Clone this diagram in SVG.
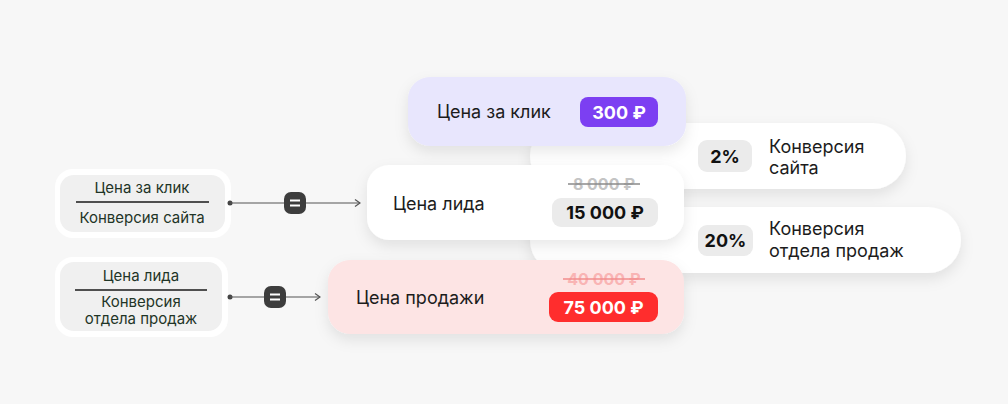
<svg xmlns="http://www.w3.org/2000/svg" width="1008" height="404" viewBox="0 0 1008 404">
<style>
text{font-family:Inter,"Noto Sans","Liberation Sans",sans-serif}
.lbl{font-size:18px;fill:#1c1c1c}
.sm{font-size:15px;fill:#1f3527;text-anchor:middle}
.b{font-weight:700;font-size:18px;text-anchor:middle}
.conn{stroke:#555;stroke-width:1.2;fill:none}
</style>
<defs>
<filter id="sh" x="-20%" y="-40%" width="140%" height="190%">
<feDropShadow dx="0" dy="6" stdDeviation="7" flood-color="#000" flood-opacity="0.09"/>
</filter>
<marker id="arr" markerWidth="8" markerHeight="10" refX="7" refY="5" orient="auto" markerUnits="userSpaceOnUse">
<path d="M2,1.5 L7,5 L2,8.5" fill="none" stroke="#555" stroke-width="1.2"/>
</marker>
</defs>
<rect width="1008" height="404" fill="#f7f7f7"/>

<g id="conv-site">
<rect x="530" y="123" width="376" height="66" rx="33" fill="#fff" filter="url(#sh)"/>
<rect x="698" y="140" width="54" height="32" rx="9" fill="#ebebeb"/>
<text class="b" x="725" y="163" fill="#111">2%</text>
<text class="lbl" x="769" y="153">Конверсия</text>
<text class="lbl" x="769" y="174">сайта</text>
</g>

<g id="conv-sales">
<rect x="530" y="207" width="431" height="66" rx="33" fill="#fff" filter="url(#sh)"/>
<rect x="698" y="225" width="55" height="31" rx="9" fill="#ebebeb"/>
<text class="b" x="725.5" y="247" fill="#111">20%</text>
<text class="lbl" x="769" y="235">Конверсия</text>
<text class="lbl" x="769" y="257">отдела продаж</text>
</g>

<g id="click-price">
<rect x="408" y="77" width="278" height="69" rx="22" fill="#e8e6fd" filter="url(#sh)"/>
<text class="lbl" x="437" y="118" fill="#23392b">Цена за клик</text>
<rect x="580" y="97" width="78" height="30" rx="8" fill="#7c3ff2"/>
<text class="b" x="619" y="119" fill="#fff">300 ₽</text>
</g>

<g id="lead-price">
<rect x="367" y="165" width="317" height="75" rx="22" fill="#fff" filter="url(#sh)"/>
<text class="lbl" x="393" y="210">Цена лида</text>
<text x="604" y="190" font-size="16" font-weight="700" fill="#c4c4c4" text-anchor="middle">8 000 ₽</text>
<line x1="568" y1="184" x2="640" y2="184" stroke="#8a8a8a" stroke-width="1.5"/>
<rect x="552" y="198" width="106" height="29" rx="9" fill="#ebebeb"/>
<text class="b" x="605" y="219" fill="#111">15 000 ₽</text>
</g>

<g id="sale-price">
<rect x="328" y="260" width="356" height="74" rx="22" fill="#fde4e4" filter="url(#sh)"/>
<text class="lbl" x="356" y="304">Цена продажи</text>
<text x="604" y="285" font-size="16" font-weight="700" fill="#f9b4b4" text-anchor="middle">40 000 ₽</text>
<line x1="563" y1="279" x2="645" y2="279" stroke="#f28d8d" stroke-width="1.5"/>
<rect x="549" y="292" width="109" height="30" rx="9" fill="#ff2d2d"/>
<text class="b" x="603.5" y="314" fill="#fff">75 000 ₽</text>
</g>

<g id="formula-lead">
<rect x="55" y="169" width="176" height="69" rx="18" fill="#fff"/>
<rect x="60" y="175" width="165" height="57" rx="14" fill="#f0f0f0"/>
<text class="sm" x="142" y="193">Цена за клик</text>
<line x1="76" y1="202" x2="209" y2="202" stroke="#1a1a1a" stroke-width="1.3"/>
<text class="sm" x="142" y="223">Конверсия сайта</text>
</g>

<g id="formula-sale">
<rect x="55" y="257" width="173" height="80" rx="18" fill="#fff"/>
<rect x="60" y="262" width="162" height="69" rx="14" fill="#f0f0f0"/>
<text class="sm" x="141" y="281">Цена лида</text>
<line x1="75" y1="290" x2="207" y2="290" stroke="#1a1a1a" stroke-width="1.3"/>
<text class="sm" x="141" y="306.5">Конверсия</text>
<text class="sm" x="141" y="324">отдела продаж</text>
</g>

<g id="connectors">
<circle cx="230" cy="203" r="2.5" fill="#444"/>
<line class="conn" x1="230" y1="203" x2="360" y2="203" marker-end="url(#arr)"/>
<rect x="284" y="192" width="22" height="22" rx="7" fill="#3d3d3d"/>
<rect x="290" y="199.5" width="10" height="2" fill="#fff"/>
<rect x="290" y="204.5" width="10" height="2" fill="#fff"/>
<circle cx="230" cy="297" r="2.5" fill="#444"/>
<line class="conn" x1="230" y1="297" x2="320" y2="297" marker-end="url(#arr)"/>
<rect x="264" y="286" width="22" height="22" rx="7" fill="#3d3d3d"/>
<rect x="270" y="293.5" width="10" height="2" fill="#fff"/>
<rect x="270" y="298.5" width="10" height="2" fill="#fff"/>
</g>
</svg>
